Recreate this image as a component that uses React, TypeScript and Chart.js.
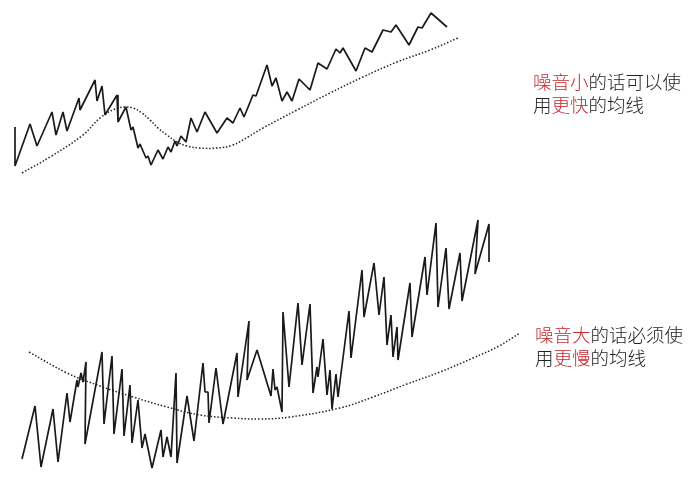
import { useEffect, useRef } from 'react'
import { Chart, registerables } from 'chart.js'

Chart.register(...registerables)

// positions (x to the right, y downward, in canvas units)
const quietX = [15, 15, 30, 37, 52, 56, 63, 67, 79, 80, 95, 97, 102, 105, 117, 118, 126, 131, 133, 138, 140, 146, 148, 151, 158, 163, 168, 171, 175, 177, 181, 186, 191, 197, 205, 217, 227, 233, 240, 244, 253, 256, 267, 272, 276, 282, 287, 292, 299, 310, 318, 327, 336, 340, 343, 356, 365, 372, 383, 391, 396, 409, 418, 422, 431, 447]
const quietY = [127, 166, 124, 146, 112, 135, 112, 131, 98, 110, 80, 101, 86, 115, 95, 122, 107, 130, 127, 148, 144, 158, 156, 165, 150, 159, 147, 152, 141, 146, 136, 142, 118, 132, 112, 133, 118, 123, 108, 117, 95, 96, 65, 86, 78, 101, 92, 101, 79, 90, 63, 69, 49, 53, 48, 71, 48, 52, 30, 32, 25, 45, 27, 28, 13, 27]

const fastMaX = [22, 50, 83, 100, 115, 125, 133, 142, 150, 158, 167, 177, 187, 200, 217, 233, 248, 263, 297, 330, 363, 397, 430, 458]
const fastMaY = [173, 157, 135, 118, 109, 107, 108, 113, 120, 128, 135, 142, 146, 148, 148, 145, 137, 128, 110, 93, 77, 62, 50, 38]

const noisyX = [22, 35, 41, 53, 58, 67, 70, 77, 78, 81, 83, 86, 85, 102, 104, 112, 114, 122, 124, 130, 132, 138, 142, 145, 152, 161, 163, 167, 171, 176, 177, 187, 194, 203, 205, 208, 209, 216, 223, 237, 238, 249, 247, 257, 271, 273, 275, 277, 282, 283, 289, 298, 302, 310, 313, 317, 318, 323, 327, 330, 332, 336, 338, 349, 351, 362, 364, 374, 379, 384, 387, 391, 393, 397, 398, 410, 412, 425, 427, 436, 438, 446, 449, 460, 462, 478, 475, 489, 489]
const noisyY = [459, 406, 467, 409, 462, 393, 422, 380, 387, 373, 382, 362, 444, 352, 424, 356, 434, 369, 436, 385, 443, 400, 448, 434, 468, 430, 457, 437, 457, 373, 463, 396, 441, 363, 392, 392, 423, 368, 424, 353, 397, 321, 380, 350, 396, 369, 390, 387, 412, 312, 387, 303, 365, 304, 393, 367, 377, 339, 395, 370, 409, 374, 397, 311, 358, 270, 317, 263, 315, 277, 345, 315, 357, 327, 360, 283, 337, 257, 295, 223, 307, 248, 309, 253, 301, 220, 274, 224, 262]

const slowMaX = [29, 67, 100, 133, 167, 200, 233, 260, 290, 340, 373, 407, 440, 473, 499, 520]
const slowMaY = [352, 373, 386, 397, 407, 415, 418, 419, 417, 408, 397, 384, 372, 358, 346, 333]

const RED = '#c4262e'
const INK = '#222'

const toPoints = (xs: number[], ys: number[]) => xs.map((x, i) => ({ x, y: ys[i] }))

const priceLine = (xs: number[], ys: number[]) => ({
  data: toPoints(xs, ys),
  borderColor: '#1a1a1a',
  borderWidth: 1.7,
  borderJoinStyle: 'bevel' as const,
  tension: 0,
  pointRadius: 0,
  fill: false,
})

const maLine = (xs: number[], ys: number[]) => ({
  data: toPoints(xs, ys),
  borderColor: '#222',
  borderWidth: 1.5,
  borderDash: [1.5, 1.9],
  tension: 0.4,
  pointRadius: 0,
  fill: false,
})

function Note({ top, left, lines }: { top: number; left: number; lines: [string, string, string][] }) {
  return (
    <div style={{ position: 'absolute', top, left, fontFamily: '"Noto Sans CJK SC", sans-serif', fontWeight: 300, fontSize: 18.5, lineHeight: '23px', color: INK, whiteSpace: 'nowrap' }}>
      {lines.map(([pre, red, post], i) => (
        <div key={i}>{pre}<span style={{ color: RED }}>{red}</span>{post}</div>
      ))}
    </div>
  )
}

export default function App() {
  const canvasRef = useRef<HTMLCanvasElement>(null)
  const chartRef = useRef<Chart | null>(null)

  useEffect(() => {
    if (!canvasRef.current) return
    if (chartRef.current) { chartRef.current.destroy() }

    chartRef.current = new Chart(canvasRef.current, {
      type: 'line',
      data: {
        datasets: [
          priceLine(quietX, quietY),
          maLine(fastMaX, fastMaY),
          priceLine(noisyX, noisyY),
          maLine(slowMaX, slowMaY),
        ],
      },
      options: {
        responsive: false,
        animation: false,
        layout: { padding: 0 },
        plugins: { legend: { display: false }, tooltip: { enabled: false } },
        scales: {
          x: { type: 'linear', min: 0, max: 696, display: false },
          y: { type: 'linear', min: 0, max: 484, reverse: true, display: false },
        },
      },
    })

    return () => { chartRef.current?.destroy() }
  }, [])

  return (
    <div style={{ position: 'absolute', left: 0, top: 0, width: 696, height: 484, background: '#fff' }}>
      <canvas ref={canvasRef} width={696} height={484} role="img" aria-label="噪音与均线示意图" style={{ position: 'absolute', left: 0, top: 0 }} />
      <Note top={70} left={533} lines={[['', '噪音小', '的话可以使'], ['用', '更快', '的均线']]} />
      <Note top={323} left={535} lines={[['', '噪音大', '的话必须使'], ['用', '更慢', '的均线']]} />
    </div>
  )
}
